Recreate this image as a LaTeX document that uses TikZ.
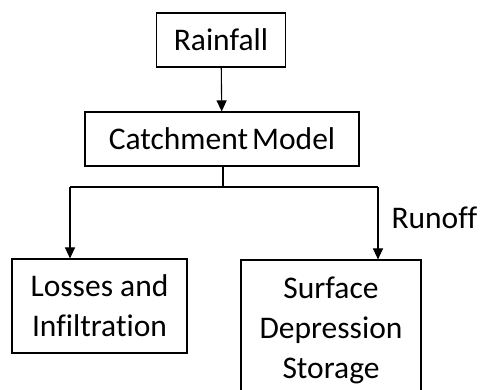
\documentclass[tikz,border=0pt]{standalone}
\usepackage{fontspec}
\setmainfont{Carlito}[Ligatures=NoCommon]
\usepackage{tikz}
\usetikzlibrary{arrows.meta}
\usetikzlibrary{positioning}
\tikzset{
    block/.style={draw=black, rectangle, align=center, inner sep=0pt,
        font=\fontsize{31.5}{40}\selectfont},
    flow/.style={draw=black, -{Triangle[length=11pt,width=10pt]}},
    wire/.style={draw=black},
}

\begin{document}
\begin{tikzpicture}[x=1pt, y=-1pt, line width=1.1pt]
		\useasboundingbox (0,0) rectangle (483,390);
		%
		\node[block, minimum width=129pt, minimum height=54pt] (rain) at (221,40) {Rainfall};
		\node[block, minimum width=274pt, minimum height=54pt] (catch) at (222,139) {Catchment\hspace{-3pt} Model};
		% 
		\node[block, minimum width=175pt, minimum height=94pt] (loss) at (99.5,306) {Losses and\\Infiltration};
		\node[block, minimum width=180pt, minimum height=140pt] (store) at (331,330) {Surface\\Depression\\Storage};
		%
		\coordinate (split) at (223,187);
		\coordinate (lbend) at (70,187);
		\coordinate (rbend) at (378,187);
		%
		\draw[flow] (rain) -- (catch);
		\draw[wire] (catch.south -| split) -- (split);
		\draw[wire] (lbend) -- (rbend);
		\draw[flow] (lbend) -- (lbend |- loss.north);
		\draw[flow] (rbend) -- (rbend |- store.north);
		%
		\node[anchor=west, inner sep=0pt, font=\fontsize{31.5}{40}\selectfont] (runoff) at (391,218) {Runoff};
	\end{tikzpicture}
\end{document}
